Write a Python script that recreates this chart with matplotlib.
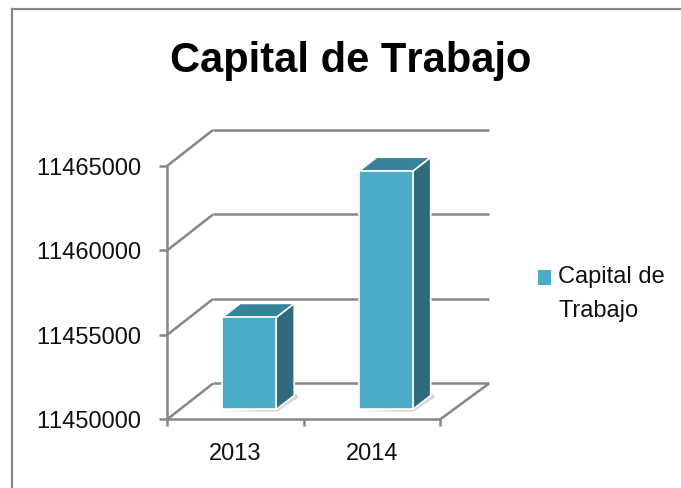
import matplotlib
matplotlib.use("Agg")
import matplotlib.pyplot as plt
from matplotlib.patches import Polygon, Patch, Rectangle
from matplotlib.lines import Line2D
from matplotlib.transforms import Affine2D
from matplotlib.legend_handler import HandlerPatch

plt.rcParams['font.family'] = ['Liberation Sans', 'DejaVu Sans']
plt.rcParams['text.kerning_factor'] = 6

title = "Capital de Trabajo"
categories = ["2013", "2014"]
values = [11455450, 11464100]
y_ticks = [11450000, 11455000, 11460000, 11465000]
series = "Capital de\nTrabajo"

W, H = 681, 488
GRAY = "#868686"
FRONT, SIDE, TOP = "#4BACC6", "#2F6B7C", "#37839A"

fig = plt.figure(figsize=(W / 100, H / 100), dpi=100, facecolor="white")
ax = fig.add_axes([167 / W, 1 - 419.5 / H, (440 - 167) / W, (419.5 - 166) / H])
ax.set_xlim(0, 2)
ax.set_ylim(y_ticks[0], y_ticks[-1])
ax.patch.set_alpha(0)
for s in ax.spines.values():
    s.set_visible(False)
ax.set_xticks([])
ax.set_yticks([])

DEPTH = (46, 36)
EXTRA = 3  # back lines run a little past the floor corner


def shifted(dx, dy):
    return ax.transData + Affine2D().translate(dx, dy)


back = shifted(*DEPTH)
line_kw = dict(color=GRAY, lw=1.8, clip_on=False, solid_capstyle="butt")
bottom = y_ticks[0]

# back wall gridlines and left wall slants
for v in y_ticks:
    pl = back.transform((0, v))
    pr = back.transform((2, v))
    ax.add_line(Line2D([pl[0], pr[0] + EXTRA], [pl[1], pr[1]], transform=None,
                       zorder=1, **line_kw))
    p0 = ax.transData.transform((0, v))
    ax.add_line(Line2D([p0[0], p0[0] + DEPTH[0]], [p0[1], p0[1] + DEPTH[1]],
                       transform=None, zorder=1, **line_kw))
    ax.add_line(Line2D([p0[0] - 8, p0[0]], [p0[1], p0[1]], transform=None,
                       zorder=3, **line_kw))
    ax.annotate(f"{v}", (0, v), xytext=(-26, -3), textcoords="offset pixels",
                ha="right", va="center", fontsize=17, color="#111111")

# floor right slant, front edge, axis
p1 = ax.transData.transform((2, bottom))
ax.add_line(Line2D([p1[0], p1[0] + DEPTH[0] + EXTRA], [p1[1], p1[1] + DEPTH[1]],
                   transform=None, zorder=1, **line_kw))
ax.plot([0, 2], [bottom, bottom], zorder=3, **line_kw)
ax.plot([0, 0], [y_ticks[0], y_ticks[-1]], zorder=3, **line_kw)
for t in [0, 1, 2]:
    pt = ax.transData.transform((t, bottom))
    ax.add_line(Line2D([pt[0], pt[0]], [pt[1], pt[1] - 7], transform=None,
                       zorder=3, **line_kw))

# bars
BAR_W = 0.395
F_DX, F_DY = 14.0, 10
S_DX, S_DY = 18, 14
front_t = shifted(F_DX, F_DY)
for i, (cat, val) in enumerate(zip(categories, values)):
    c = i + 0.5
    x0, x1 = c - BAR_W / 2, c + BAR_W / 2
    (ax0, ay0) = front_t.transform((x0, bottom))
    (ax1, ay1) = front_t.transform((x1, val))
    poly_kw = dict(transform=None, closed=True, ec="white", lw=1.2,
                   joinstyle="round", zorder=5, clip_on=False)
    # soft floor shadow
    ax.add_patch(Polygon([(ax0 - 3, ay0 - 2), (ax1 + 1, ay0 - 2),
                          (ax1 + S_DX + 4, ay0 + S_DY - 2),
                          (ax1 + S_DX + 2, ay0 + S_DY + 2), (ax1, ay0)],
                         closed=True, transform=None, fc="#D4D4D4", ec="none",
                         zorder=4, clip_on=False))
    ax.add_patch(Polygon([(ax1, ay0), (ax1 + S_DX, ay0 + S_DY),
                          (ax1 + S_DX, ay1 + S_DY), (ax1, ay1)],
                         fc=SIDE, **poly_kw))
    ax.add_patch(Polygon([(ax0, ay1), (ax1, ay1), (ax1 + S_DX, ay1 + S_DY),
                          (ax0 + S_DX, ay1 + S_DY)], fc=TOP, **poly_kw))
    ax.add_patch(Polygon([(ax0, ay0), (ax1, ay0), (ax1, ay1), (ax0, ay1)],
                         fc=FRONT, **poly_kw))
    ax.annotate(cat, (c, bottom), xytext=(0, -35), textcoords="offset pixels",
                ha="center", va="center", fontsize=17, color="#111111")

# outer border
for xs, ys in [((11.5, 11.5), (488, 8.5)), ((11.5, 681), (8.5, 8.5))]:
    fig.add_artist(Line2D([x / W for x in xs], [1 - y / H for y in ys],
                          transform=fig.transFigure, color=GRAY, lw=1.6))

fig.text(351 / W, 1 - 61 / H, title, ha="center", va="center",
         fontsize=30, fontweight="bold", color="black")


def raised_square(legend, orig_handle, xdescent, ydescent, width, height, fontsize):
    return Rectangle((-xdescent, -ydescent + 12), width, height)


leg = fig.legend(handles=[Patch(fc=FRONT, ec="none", label=series)],
                 handler_map={Patch: HandlerPatch(patch_func=raised_square)},
                 loc="upper left", bbox_to_anchor=(531 / W, 1 - 258.5 / H),
                 frameon=False, fontsize=17, handlelength=0.55, handleheight=0.55,
                 handletextpad=0.3, labelcolor="#111111",
                 borderpad=0.3, borderaxespad=0)
leg.get_texts()[0].set_linespacing(1.75)

fig.savefig("out.png", dpi=100, facecolor="white")
